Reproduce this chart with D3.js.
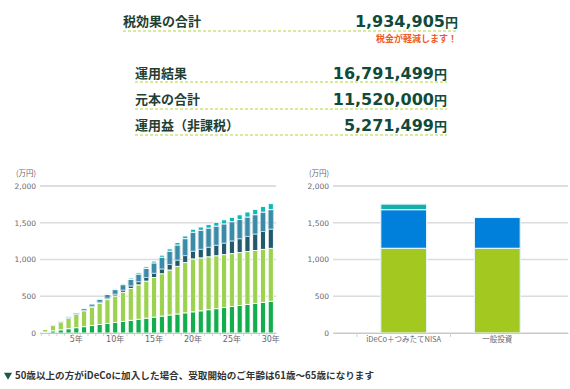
<!DOCTYPE html>
<html>
<head>
<meta charset="utf-8">
<script src="https://cdn.jsdelivr.net/npm/d3@7"></script>
<style>
  body { margin: 0; background: #fff; }
  svg { display: block; font-family: "DejaVu Sans", "Noto Sans CJK JP", sans-serif; }
</style>
</head>
<body>
<svg width="570" height="389"></svg>
<script>
// summary rows
var summaryLabels = ["税効果の合計", "運用結果", "元本の合計", "運用益（非課税）"];
var summaryValues = ["1,934,905", "16,791,499", "11,520,000", "5,271,499"];

// left chart: year by year (万円)
var years = [1,2,3,4,5,6,7,8,9,10,11,12,13,14,15,16,17,18,19,20,21,22,23,24,25,26,27,28,29,30];
var yearTicks = [5, 10, 15, 20, 25, 30];
var idecoPrincipal = [14,29,43,58,72,86,101,115,130,144,158,173,187,202,216,230,245,259,274,288,302,317,331,346,360,374,389,403,418,432];
var nisaPrincipal = [36,72,108,144,180,216,252,288,324,360,396,432,468,504,540,576,612,648,684,720,720,720,720,720,720,720,720,720,720,720];
var idecoGain = [0,1,2,4,6,9,12,16,20,25,30,36,43,50,58,66,75,85,95,106,118,131,144,158,173,189,206,224,243,262];
var nisaGain = [1,3,6,10,16,22,30,39,49,61,73,88,103,121,139,159,181,205,230,257,258,259,259,260,261,261,262,262,263,264];
var taxEffect = [1,2,3,4,6,7,9,10,12,14,16,18,20,23,25,28,31,34,37,41,44,48,52,56,60,64,69,73,78,82];

// right chart: comparison
var compareCats = ["iDeCo＋つみたてNISA", "一般投資"];
var comparePrincipal = [1152, 1152];
var compareGain = [527, 420];
var compareTax = [75, 0];

var yTicks = [0, 500, 1000, 1500, 2000];

var svg = d3.select("svg");

// ---- summary block ----
var rows = [
  {x0: 123, x1: 458, y: 20, line: 31},
  {x0: 135, x1: 447, y: 72, line: 82},
  {x0: 135, x1: 447, y: 98, line: 109},
  {x0: 135, x1: 447, y: 124, line: 135}
];
rows.forEach(function(r, i) {
  svg.append("text")
    .attr("x", r.x0)
    .attr("y", r.y)
    .attr("dominant-baseline", "central")
    .style("font-family", "'Noto Sans CJK JP', sans-serif")
    .style("font-size", "13px")
    .style("font-weight", "bold")
    .style("fill", "#1f3f33")
    .text(summaryLabels[i]);
  var t = svg.append("text")
    .attr("x", r.x1)
    .attr("y", r.y + 1)
    .attr("dominant-baseline", "central")
    .attr("text-anchor", "end")
    .style("fill", "#0f4a3a");
  t.append("tspan")
    .style("font-size", "16px")
    .style("font-weight", "bold")
    .text(summaryValues[i]);
  t.append("tspan")
    .style("font-family", "'Noto Sans CJK JP', sans-serif")
    .style("font-size", "13px")
    .style("font-weight", "bold")
    .text("円");
  svg.append("line")
    .attr("x1", r.x0).attr("x2", r.x1)
    .attr("y1", r.line).attr("y2", r.line)
    .style("stroke", "#b6d63a")
    .style("stroke-width", 1.2)
    .style("stroke-dasharray", "3,2");
});
svg.append("text")
  .attr("x", 457)
  .attr("y", 38)
  .attr("dominant-baseline", "central")
  .attr("text-anchor", "end")
  .style("font-family", "'Noto Sans CJK JP', sans-serif")
  .style("font-size", "9px")
  .style("font-weight", "bold")
  .style("fill", "#f05a28")
  .text("税金が軽減します！");

// ---- shared y scale ----
var y = d3.scaleLinear().domain([0, 2000]).range([333, 186]);

function drawFrame(x0, x1) {
  var g = svg.append("g");
  yTicks.forEach(function(v) {
    g.append("line")
      .attr("x1", x0).attr("x2", x1)
      .attr("y1", y(v)).attr("y2", y(v))
      .style("stroke", v == 2000 ? "#bdbdbd" : "#dcdcdc")
      .style("stroke-width", v == 2000 ? 1 : 1.6);
  });
  var ax = d3.axisLeft(y).tickValues(yTicks).tickFormat(d3.format(",")).tickSize(0).tickPadding(4);
  var a = svg.append("g").attr("transform", "translate(" + x0 + ",0)").call(ax);
  a.select(".domain").remove();
  a.selectAll("text")
    .style("font-size", "7.5px")
    .style("font-family", "'DejaVu Sans', sans-serif")
    .style("fill", "#6b6670");
  svg.append("text")
    .attr("x", x0 - 4)
    .attr("y", 176)
    .attr("text-anchor", "end")
    .style("font-size", "7.5px")
    .style("font-family", "'Noto Sans CJK JP', sans-serif")
    .style("fill", "#6b6670")
    .text("(万円)");
}

// ---- left chart ----
drawFrame(40, 276);
var xL = d3.scaleBand().domain(years).range([40, 276]).padding(0.34);
var keysL = ["ip", "np", "ig", "ng", "tx"];
var colorsL = {ip: "#12ae4e", np: "#9cd24f", ig: "#215a6c", ng: "#3b8aa7", tx: "#12b8b6"};
var tableL = years.map(function(yr, i) {
  return {year: yr, ip: idecoPrincipal[i], np: nisaPrincipal[i], ig: idecoGain[i], ng: nisaGain[i], tx: taxEffect[i]};
});
var stackL = d3.stack().keys(keysL)(tableL);
svg.append("g").selectAll("g")
  .data(stackL)
  .enter().append("g")
  .style("fill", function(d) { return colorsL[d.key]; })
  .selectAll("rect")
  .data(function(d) { return d; })
  .enter().append("rect")
  .attr("x", function(d) { return xL(d.data.year); })
  .attr("width", xL.bandwidth())
  .attr("y", function(d) { return y(d[1]); })
  .attr("height", function(d) { return Math.max(0, y(d[0]) - y(d[1])); })
  .style("stroke", function(d) { return d[0] >= d.data.ip + d.data.np + d.data.ig - 1 && d[1] < d.data.ip + d.data.np + d.data.ig + d.data.ng + 1 && d[0] > d.data.ip + d.data.np ? "#b9d6e0" : "#fff"; })
  .style("stroke-width", 0.9);

var axL = d3.axisBottom(xL)
  .tickValues(yearTicks)
  .tickFormat(function(d) { return d + "年"; })
  .tickSize(0)
  .tickPadding(3);
var gL = svg.append("g").attr("transform", "translate(0,333)").call(axL);
gL.select(".domain").style("stroke", "#c8c8c8");
gL.selectAll("text")
  .style("font-size", "8px")
  .style("font-family", "'DejaVu Sans', 'Noto Sans CJK JP', sans-serif")
  .style("fill", "#6b6670");
gL.selectAll("line.band")
  .data(years)
  .enter().append("line")
  .attr("class", "band")
  .attr("x1", function(d) { return xL(d) - xL.step() * xL.paddingInner() / 2; })
  .attr("x2", function(d) { return xL(d) - xL.step() * xL.paddingInner() / 2; })
  .attr("y1", 0).attr("y2", 3)
  .style("stroke", "#d0d0d0");

// ---- right chart ----
drawFrame(333, 568);
var xR = d3.scaleBand().domain(compareCats).range([333, 568]).padding(0.51);
var keysR = ["p", "g", "t"];
var colorsR = {p: "#a3c81f", g: "#0080db", t: "#12b0aa"};
var tableR = compareCats.map(function(c, i) {
  return {cat: c, p: comparePrincipal[i], g: compareGain[i], t: compareTax[i]};
});
var stackR = d3.stack().keys(keysR)(tableR);
svg.append("g").selectAll("g")
  .data(stackR)
  .enter().append("g")
  .style("fill", function(d) { return colorsR[d.key]; })
  .selectAll("rect")
  .data(function(d) { return d.filter(function(p) { return p[1] > p[0]; }); })
  .enter().append("rect")
  .attr("x", function(d) { return xR(d.data.cat); })
  .attr("width", xR.bandwidth())
  .attr("y", function(d) { return y(d[1]); })
  .attr("height", function(d) { return y(d[0]) - y(d[1]); })
  .style("stroke", "#e6f4fb")
  .style("stroke-width", 1.2);

var axR = d3.axisBottom(xR).tickSize(0).tickPadding(4);
var gR = svg.append("g").attr("transform", "translate(0,333)").call(axR);
gR.select(".domain").style("stroke", "#c8c8c8");
gR.selectAll("text")
  .style("font-size", "7.5px")
  .style("font-family", "'Noto Sans CJK JP', sans-serif")
  .style("fill", "#6b6670");
gR.selectAll("line.band")
  .data(compareCats)
  .enter().append("line")
  .attr("class", "band")
  .attr("x1", function(d) { return xR(d) - xR.step() * xR.paddingInner() / 2; })
  .attr("x2", function(d) { return xR(d) - xR.step() * xR.paddingInner() / 2; })
  .attr("y1", 0).attr("y2", 4)
  .style("stroke", "#d0d0d0");

// ---- note ----
svg.append("path")
  .attr("d", d3.symbol().type(d3.symbolTriangle).size(28)())
  .attr("transform", "translate(8,375) rotate(180)")
  .style("fill", "#1c5a40");
svg.append("text")
  .attr("x", 15)
  .attr("y", 375)
  .attr("dominant-baseline", "central")
  .style("font-family", "'Noto Sans CJK JP', sans-serif")
  .style("font-size", "9.6px")
  .style("font-weight", "bold")
  .style("fill", "#333")
  .text("50歳以上の方がiDeCoに加入した場合、受取開始のご年齢は61歳〜65歳になります");
</script>
</body>
</html>
